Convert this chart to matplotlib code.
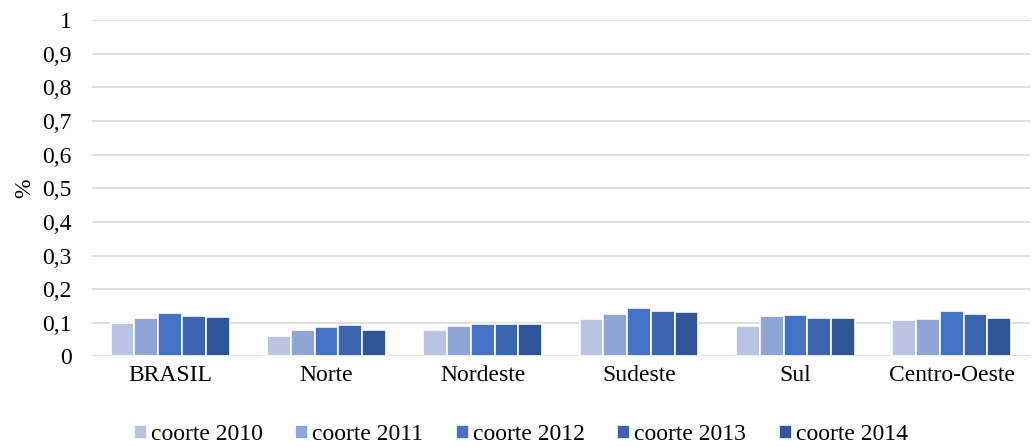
import matplotlib.pyplot as plt
import numpy as np

plt.rcParams["font.family"] = ["Liberation Serif", "DejaVu Serif"]

categories = ["BRASIL", "Norte", "Nordeste", "Sudeste", "Sul", "Centro-Oeste"]
series_names = ["coorte 2010", "coorte 2011", "coorte 2012", "coorte 2013", "coorte 2014"]
coorte_2010 = [0.100, 0.060, 0.079, 0.111, 0.092, 0.109]
coorte_2011 = [0.113, 0.080, 0.091, 0.125, 0.120, 0.111]
coorte_2012 = [0.128, 0.089, 0.097, 0.143, 0.124, 0.134]
coorte_2013 = [0.120, 0.093, 0.097, 0.134, 0.115, 0.126]
coorte_2014 = [0.117, 0.080, 0.098, 0.131, 0.113, 0.114]
yticks = [0, 0.1, 0.2, 0.3, 0.4, 0.5, 0.6, 0.7, 0.8, 0.9, 1]
ytick_labels = ["0", "0,1", "0,2", "0,3", "0,4", "0,5", "0,6", "0,7", "0,8", "0,9", "1"]

colors = ["#B9C3E3", "#8FA5D5", "#4472C4", "#3A64AD", "#2F5597"]
values = [coorte_2010, coorte_2011, coorte_2012, coorte_2013, coorte_2014]

fs = 17

fig = plt.figure(figsize=(10.33, 4.47), dpi=100)
ax = fig.add_axes([0.089, 0.2025, 0.908, 0.7525])

x = np.arange(len(categories))
slot = 0.152
for i, (name, vals) in enumerate(zip(series_names, values)):
    offset = (i - 2) * slot
    ax.bar(x + offset, vals, width=slot, color=colors[i], edgecolor="white",
           linewidth=1.2, label=name, zorder=3)

ax.set_xlim(-0.5, len(categories) - 0.5)
ax.set_ylim(0, 1)
ax.set_yticks(yticks)
ax.set_yticklabels(ytick_labels)
ax.set_xticks(x)
ax.set_xticklabels(categories)
ax.grid(axis="y", color="#D9D9D9", linewidth=1.2, zorder=0)
for s in ax.spines.values():
    s.set_visible(False)
ax.tick_params(axis="both", length=0, labelsize=fs, colors="black")
ax.tick_params(axis="y", pad=14.5)
ax.tick_params(axis="x", pad=6)
ax.set_ylabel("%", fontsize=fs, labelpad=5)

fig.legend(loc="center", bbox_to_anchor=(0.504, 0.027), ncol=5, frameon=False,
           fontsize=fs, handlelength=0.55, handleheight=0.55, handletextpad=0.17,
           columnspacing=1.38, borderaxespad=0)

fig.savefig("out.png", dpi=100)
